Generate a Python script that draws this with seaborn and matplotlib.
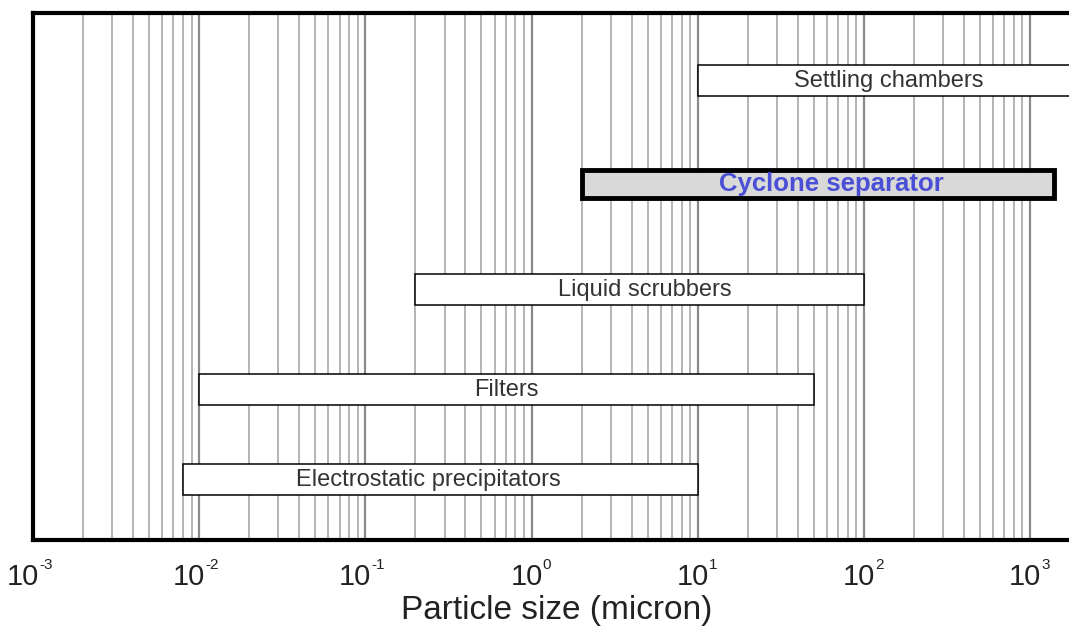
import numpy as np
import matplotlib
matplotlib.use("Agg")
import matplotlib.pyplot as plt
import matplotlib.transforms as mtransforms
import seaborn as sns
from matplotlib.ticker import LogLocator, NullFormatter

# Particle size ranges (micron) for each collection device
devices = ["Settling chambers", "Cyclone separator", "Liquid scrubbers",
           "Filters", "Electrostatic precipitators"]
size_min = [10, 2, 0.2, 0.01, 0.008]
size_max = [2000, 1400, 100, 50, 10]
highlight = "Cyclone separator"

x_limits = (1e-3, 2e3)
decades = [-3, -2, -1, 0, 1, 2, 3]
xlabel = "Particle size (micron)"

sns.set_theme(style="white")
plt.rcParams["font.family"] = ["Liberation Sans", "DejaVu Sans"]

fig = plt.figure(figsize=(10.69, 6.30), dpi=100)
ax = fig.add_axes([0.0309, 0.1429, 0.9794, 0.8365])

# vertical row placement of the bars and label nudges (log-space factor)
row_y = [4.59, 3.56, 2.50, 1.50, 0.60]
row_h = [0.31, 0.28, 0.31, 0.31, 0.31]
label_shift = [1.0, 1.2, 1.08, 1.0, 0.85]

ax.set_xscale("log")
ax.set_xlim(*x_limits)
ax.set_ylim(0, 5.27)

# decade and sub-decade grid lines
ax.set_xticks([10.0 ** d for d in decades])
ax.xaxis.set_minor_locator(LogLocator(base=10, subs=np.arange(2, 10), numticks=20))
ax.xaxis.set_major_formatter(NullFormatter())
ax.xaxis.set_minor_formatter(NullFormatter())
ax.grid(True, which="major", axis="x", color="#8a8a8a", linewidth=1.6)
ax.grid(True, which="minor", axis="x", color="#b4b4b4", linewidth=1.4)
ax.set_axisbelow(True)
ax.set_yticks([])
ax.tick_params(axis="x", which="both", length=0)

for name, lo, hi, y, h, s in zip(devices, size_min, size_max, row_y, row_h, label_shift):
    is_hl = name == highlight
    ax.barh(y, hi - lo, left=lo, height=h,
            color="#d9d9d9" if is_hl else "white",
            edgecolor="black", linewidth=3.5 if is_hl else 1.1, zorder=3)
    xc = np.sqrt(lo * hi) * s
    if is_hl:
        ax.text(xc, y, name, ha="center", va="center", fontsize=18.5,
                fontweight="bold", color="#4b4fd6", zorder=4)
    else:
        ax.text(xc, y, name, ha="center", va="center", fontsize=17,
                color="#333333", zorder=4)

# power-of-ten tick labels: "10" with a small raised exponent
blend = mtransforms.blended_transform_factory(ax.transData, ax.transAxes)
for d in decades:
    dx = 6 if d < 0 else 11
    base_tr = mtransforms.offset_copy(blend, fig=fig, x=dx, y=-45, units="dots")
    exp_tr = mtransforms.offset_copy(blend, fig=fig, x=dx, y=-29, units="dots")
    ax.text(10.0 ** d, 0, "10", transform=base_tr, ha="right", va="baseline",
            fontsize=21, color="#222222", clip_on=False)
    ax.text(10.0 ** d, 0, str(d), transform=exp_tr, ha="left", va="baseline",
            fontsize=11, color="#222222", clip_on=False)

for side in ["top", "bottom", "left", "right"]:
    ax.spines[side].set_color("black")
    ax.spines[side].set_linewidth(3)

ax.set_xlabel(xlabel, fontsize=24, color="#222222", labelpad=36)

fig.savefig("out.png", dpi=100)
